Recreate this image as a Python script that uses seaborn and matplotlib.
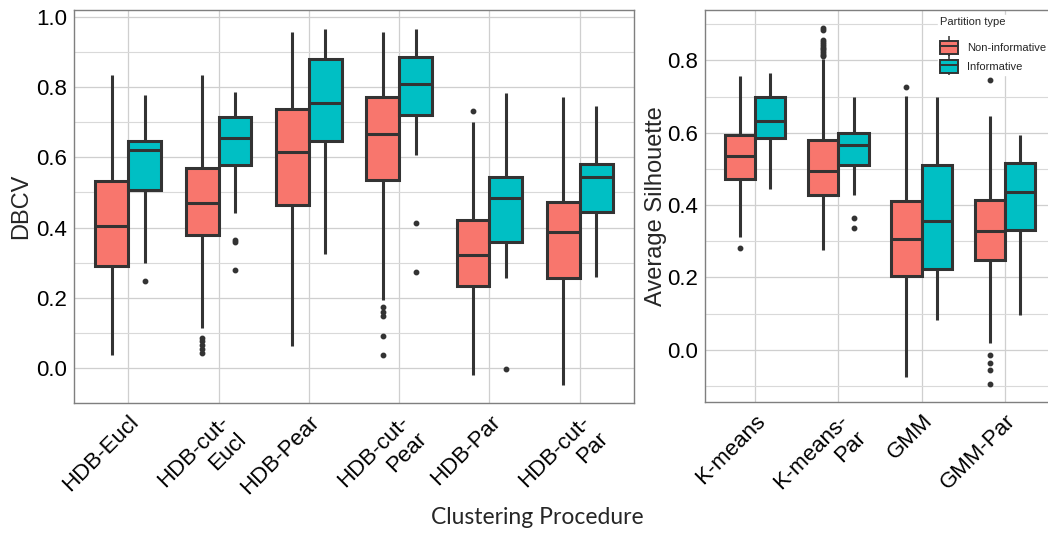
import numpy as np
import pandas as pd
import seaborn as sns
import matplotlib.pyplot as plt
from matplotlib.patches import Patch
from matplotlib.lines import Line2D
from matplotlib.legend_handler import HandlerTuple

# ---------------------------------------------------------------- data
partition_types = ["Non-informative", "Informative"]
box_colors = ["#F8766D", "#00BFC4"]

# DBCV per clustering procedure, pairs are [Non-informative, Informative]
dbcv_procs = ["HDB-Eucl", "HDB-cut-\nEucl", "HDB-Pear", "HDB-cut-\nPear",
              "HDB-Par", "HDB-cut-\nPar"]
dbcv_whislo = [[0.036, 0.299], [0.112, 0.441], [0.062, 0.323],
               [0.194, 0.608], [-0.021, 0.255], [-0.051, 0.258]]
dbcv_q1 = [[0.291, 0.507], [0.379, 0.578], [0.465, 0.647],
           [0.535, 0.721], [0.232, 0.358], [0.256, 0.444]]
dbcv_med = [[0.405, 0.622], [0.470, 0.656], [0.616, 0.755],
            [0.668, 0.810], [0.322, 0.484], [0.387, 0.543]]
dbcv_q3 = [[0.532, 0.647], [0.569, 0.716], [0.739, 0.882],
           [0.772, 0.888], [0.421, 0.544], [0.474, 0.582]]
dbcv_whishi = [[0.835, 0.778], [0.835, 0.786], [0.957, 0.967],
               [0.957, 0.967], [0.702, 0.783], [0.773, 0.746]]
dbcv_fliers = [[[], [0.248]],
               [[0.086, 0.075, 0.064, 0.052, 0.041], [0.365, 0.358, 0.280]],
               [[], []],
               [[0.174, 0.160, 0.147, 0.089, 0.036], [0.412, 0.272]],
               [[0.733], [-0.005]],
               [[], []]]

# Average silhouette per clustering procedure
sil_procs = ["K-means", "K-means-\nPar", "GMM", "GMM-Par"]
sil_whislo = [[0.311, 0.445], [0.277, 0.429], [-0.076, 0.083], [0.018, 0.095]]
sil_q1 = [[0.472, 0.585], [0.429, 0.512], [0.205, 0.223], [0.249, 0.332]]
sil_med = [[0.537, 0.631], [0.493, 0.565], [0.306, 0.355], [0.328, 0.436]]
sil_q3 = [[0.595, 0.699], [0.581, 0.598], [0.412, 0.512], [0.415, 0.517]]
sil_whishi = [[0.758, 0.766], [0.805, 0.699], [0.701, 0.699], [0.646, 0.595]]
sil_fliers = [[[0.281], []],
              [[0.889, 0.884, 0.856, 0.851, 0.846, 0.840, 0.835, 0.830,
                0.825, 0.820, 0.815, 0.812], [0.364, 0.337]],
              [[0.726], []],
              [[0.746, -0.014, -0.035, -0.055, -0.094], []]]


def summary_sample(lo, q1, med, q3, hi, fliers):
    """Observations whose quartiles, whisker ends and outliers equal the
    given five-number summary (numpy 'linear' percentiles)."""
    return [*fliers, lo, *[q1] * 40, *[med] * 21, *[q3] * 40, hi]


def long_table(procs, lo, q1, med, q3, hi, fliers):
    rows = []
    for i, proc in enumerate(procs):
        for j, ptype in enumerate(partition_types):
            vals = summary_sample(lo[i][j], q1[i][j], med[i][j], q3[i][j],
                                  hi[i][j], fliers[i][j])
            rows += [(proc, ptype, v) for v in vals]
    return pd.DataFrame(rows, columns=["procedure", "ptype", "value"])


dbcv_df = long_table(dbcv_procs, dbcv_whislo, dbcv_q1, dbcv_med, dbcv_q3,
                     dbcv_whishi, dbcv_fliers)
sil_df = long_table(sil_procs, sil_whislo, sil_q1, sil_med, sil_q3,
                    sil_whishi, sil_fliers)

# ---------------------------------------------------------------- style
sns.set_theme(style="white")
plt.rcParams["font.family"] = ["Liberation Sans", "DejaVu Sans"]

W, H = 1048, 536
fig = plt.figure(figsize=(W / 100, H / 100), dpi=100)
ax1 = fig.add_axes([74 / W, 1 - 403 / H, 560 / W, 393 / H])
ax2 = fig.add_axes([705 / W, 1 - 402 / H, 350 / W, 392 / H])

edge = "#333333"
box_kw = dict(x="procedure", y="value", hue="ptype", hue_order=partition_types,
              palette=box_colors, saturation=1, width=0.73, gap=0,
              linewidth=2.2, linecolor=edge, fliersize=3.2, whis=1.5,
              showcaps=False, legend=False,
              flierprops=dict(marker="o", markerfacecolor=edge,
                              markeredgecolor=edge))

sns.boxplot(data=dbcv_df, order=dbcv_procs, ax=ax1, **box_kw)
sns.boxplot(data=sil_df, order=sil_procs, ax=ax2, **box_kw)

panels = [
    (ax1, dbcv_procs, (-0.101, 1.021), np.arange(0, 1.01, 0.2),
     np.arange(-0.1, 1.0, 0.2), "DBCV", -0.094),
    (ax2, sil_procs, (-0.144, 0.939), np.arange(0, 0.81, 0.2),
     np.arange(-0.1, 0.91, 0.2), "Average Silhouette", -0.14),
]
for ax, procs, ylim, major, minor, ylabel, lab_x in panels:
    n = len(procs)
    ax.set_xlim(-0.6, n - 0.4)
    ax.set_ylim(*ylim)
    ax.set_yticks(major)
    ax.set_yticks(minor, minor=True)
    ax.set_yticklabels([f"{v:.1f}" for v in major])
    ax.set_xticks(range(n))
    ax.set_xticklabels(procs, rotation=45, ha="right", va="top",
                       rotation_mode="anchor", multialignment="right",
                       fontsize=18)
    ax.set_axisbelow(True)
    ax.grid(which="major", axis="both", color="#cfcfcf", linewidth=0.9)
    ax.grid(which="minor", axis="y", color="#d9d9d9", linewidth=0.8)
    ax.tick_params(axis="both", which="major", length=3, width=0.8,
                   color="#7f7f7f", labelsize=16, pad=2, labelcolor="black")
    ax.tick_params(axis="x", which="major", pad=3)
    ax.tick_params(which="minor", length=0)
    ax.set_xlabel("")
    ax.set_ylabel(ylabel, fontsize=17, va="center")
    ax.yaxis.set_label_coords(lab_x, 0.5)
    for sp in ax.spines.values():
        sp.set_visible(True)
        sp.set_color("#7f7f7f")
        sp.set_linewidth(1.0)

fig.text(537 / W, 1 - 524 / H, "Clustering Procedure", ha="center",
         va="baseline", fontsize=16.5, family=["Lato", "DejaVu Sans"])

# legend with box-glyph keys
handles = []
for c in box_colors:
    stub = Line2D([], [], color=edge, linestyle="none", marker="|",
                  markersize=15, markeredgewidth=1.1)
    body = Patch(facecolor=c, edgecolor=edge, linewidth=1.4)
    mid = Line2D([], [], color=edge, linewidth=1.4)
    handles.append((stub, body, mid))
leg = ax2.legend(handles, partition_types, title="Partition type",
                 handler_map={tuple: HandlerTuple(ndivide=1, pad=0)},
                 loc="upper left", bbox_to_anchor=(938 / W, 1 - 15 / H),
                 bbox_transform=fig.transFigure, frameon=True, fancybox=False,
                 framealpha=1, edgecolor="white", facecolor="white",
                 fontsize=8, title_fontsize=8, handlelength=1.6,
                 handleheight=1.35, handletextpad=0.8, labelspacing=0.6,
                 borderpad=0.2, borderaxespad=0)
leg._legend_box.align = "left"
leg._legend_box.sep = 10

fig.savefig("out.png", dpi=100)
